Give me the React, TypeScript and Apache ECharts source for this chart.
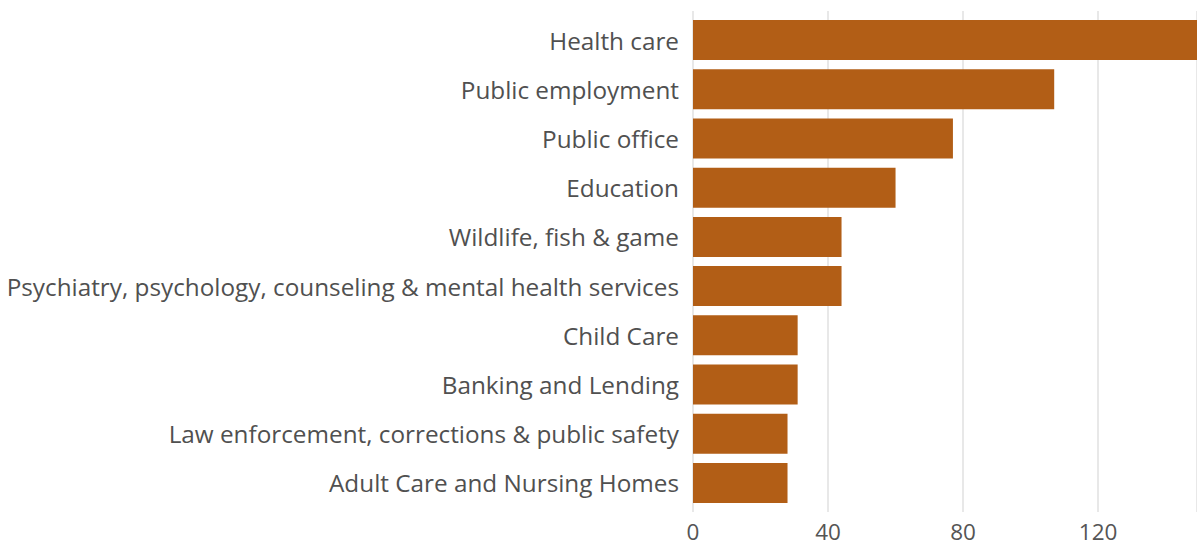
import React, { useEffect, useRef } from "react";
import * as echarts from "echarts";

const categories = [
  "Health care",
  "Public employment",
  "Public office",
  "Education",
  "Wildlife, fish & game",
  "Psychiatry, psychology, counseling & mental health services",
  "Child Care",
  "Banking and Lending",
  "Law enforcement, corrections & public safety",
  "Adult Care and Nursing Homes",
];
const values = [152, 107, 77, 60, 44, 44, 31, 31, 28, 28];
const xTicks = [0, 40, 80, 120];

export default function App() {
  const ref = useRef<HTMLDivElement>(null);
  useEffect(() => {
    if (!ref.current) return;
    const chart = echarts.init(ref.current, null, { renderer: "svg" });
    const font = "Open Sans";
    const xMin = xTicks[0];
    const xMax = 149.3;
    chart.setOption({
      animation: false,
      grid: [
        { left: 693, right: 0, top: 15.4, bottom: 546 - 507.6, containLabel: false },
        { left: 693, right: 0, top: 11, bottom: 34, containLabel: false },
      ],
      xAxis: [
        {
          type: "value",
          gridIndex: 0,
          min: xMin,
          max: xMax,
          interval: 40,
          axisLine: { show: false },
          axisTick: { show: false },
          splitLine: { show: false },
          axisLabel: { show: false },
        },
        {
          type: "value",
          gridIndex: 1,
          min: xMin,
          max: xMax,
          interval: 40,
          axisLine: { show: false },
          axisTick: { show: false },
          splitLine: { show: true, lineStyle: { color: "#e8e8e8", width: 2 } },
          axisLabel: {
            show: true,
            showMaxLabel: false,
            color: "#555555",
            fontFamily: font,
            fontSize: 22.5,
            lineHeight: 22,
            margin: 8,
          },
        },
      ],
      yAxis: [
        {
          type: "category",
          gridIndex: 0,
          data: categories,
          inverse: true,
          axisLine: { show: false },
          axisTick: { show: false },
          splitLine: { show: false },
          axisLabel: {
            color: "#505050",
            fontFamily: font,
            fontSize: 24.3,
            margin: 14,
          },
        },
        {
          type: "category",
          gridIndex: 1,
          data: categories,
          show: false,
        },
      ],
      series: [
        {
          type: "bar",
          xAxisIndex: 0,
          yAxisIndex: 0,
          data: values,
          barCategoryGap: "18.7%",
          itemStyle: { color: "#B25E16" },
          clip: true,
          z: 3,
        },
      ],
    });
    return () => chart.dispose();
  }, []);
  return (
    <div
      ref={ref}
      style={{ position: "fixed", left: 0, top: 0, width: 1197, height: 546, background: "#fff" }}
    />
  );
}
